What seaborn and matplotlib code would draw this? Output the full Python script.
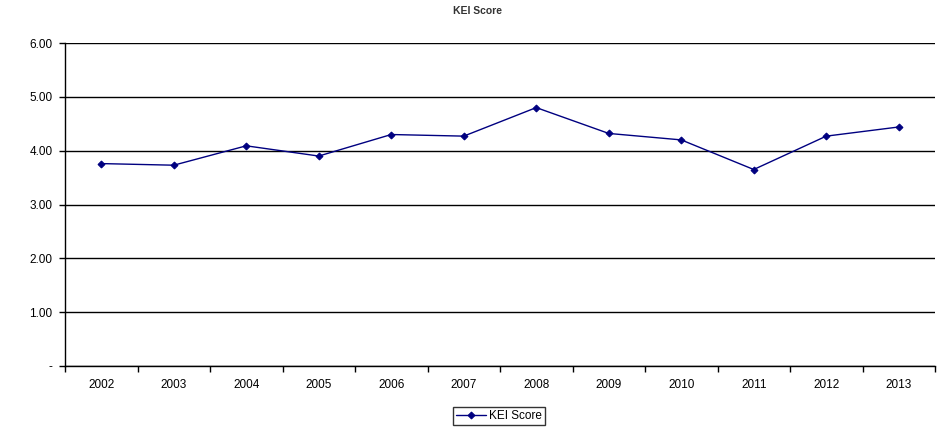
import matplotlib
matplotlib.use("Agg")
import matplotlib.pyplot as plt
import seaborn as sns
import pandas as pd
import numpy as np

years = ["2002", "2003", "2004", "2005", "2006", "2007",
         "2008", "2009", "2010", "2011", "2012", "2013"]
kei_score = [3.76, 3.73, 4.09, 3.90, 4.30, 4.27,
             4.80, 4.32, 4.20, 3.65, 4.27, 4.44]
y_ticks = [0, 1, 2, 3, 4, 5, 6]
y_tick_labels = ["-", "1.00", "2.00", "3.00", "4.00", "5.00", "6.00"]
series_name = "KEI Score"

sns.set_style("white")
plt.rcParams["font.family"] = ["Liberation Sans", "DejaVu Sans"]

df = pd.DataFrame({"pos": np.arange(len(years)), "score": kei_score})

fig = plt.figure(figsize=(9.47, 4.29), dpi=100)
ax = fig.add_axes([65 / 947, 1 - 366 / 429, 870 / 947, 323 / 429])

sns.lineplot(data=df, x="pos", y="score", ax=ax, color="#000080",
             marker="D", markersize=3.5, markeredgecolor="#000080",
             linewidth=1.0, label=series_name)

ax.set_xlim(-0.5, len(years) - 0.5)
ax.set_ylim(0, 6)
ax.set_yticks(y_ticks)
ax.set_yticklabels(y_tick_labels)
ax.yaxis.grid(True, color="black", linewidth=1.0)
ax.set_axisbelow(True)

# category boundaries as tick marks, labels centered
ax.set_xticks(np.arange(len(years) + 1) - 0.5)
ax.set_xticklabels([])
ax.set_xticks(np.arange(len(years)), minor=True)
ax.set_xticklabels(years, minor=True)
ax.tick_params(axis="x", which="major", bottom=True, direction="out",
               length=4, width=1, color="black")
ax.tick_params(axis="x", which="minor", bottom=True, length=0, pad=9,
               labelsize=8.5, labelcolor="black")
ax.tick_params(axis="y", left=True, direction="out", length=4, width=1,
               color="black", labelsize=8.5, labelcolor="black", pad=5)
ax.set_xlabel("")
ax.set_ylabel("")

for side in ["top", "right"]:
    ax.spines[side].set_visible(False)
for side in ["left", "bottom"]:
    ax.spines[side].set_color("black")
    ax.spines[side].set_linewidth(1.0)

fig.text(477 / 947, 1 - 11 / 429, "KEI Score", ha="center", va="center",
         fontsize=7.5, fontweight="bold", color="#333333")

leg = ax.legend(loc="center", bbox_to_anchor=(499 / 947, 1 - 416 / 429),
                bbox_transform=fig.transFigure, frameon=True, fancybox=False,
                fontsize=8.5, handlelength=2.5, borderpad=0.25, handletextpad=0.3)
leg.get_frame().set_edgecolor("black")
leg.get_frame().set_linewidth(1.0)
for t in leg.get_texts():
    t.set_color("black")

fig.savefig("out.png", dpi=100)
